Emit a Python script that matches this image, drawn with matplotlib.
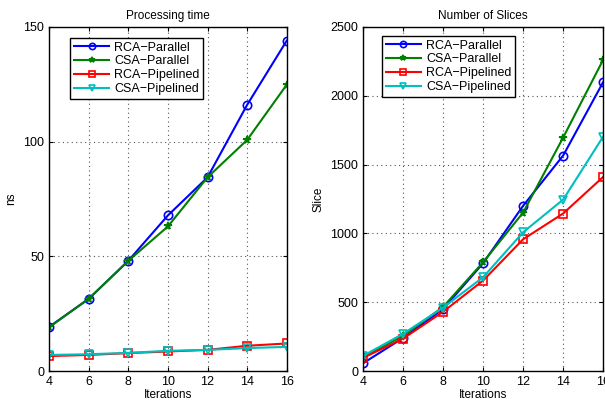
import numpy as np
import matplotlib
matplotlib.use("Agg")
import matplotlib.pyplot as plt

plt.rcParams['font.family'] = ['Liberation Sans', 'DejaVu Sans']

iterations = [4, 6, 8, 10, 12, 14, 16]

# processing time (ns)
time_rca_par = [19.2, 31.4, 48.0, 67.8, 84.4, 116.0, 144.0]
time_csa_par = [19.0, 31.5, 48.0, 63.0, 84.4, 100.7, 124.8]
time_rca_pipe = [6.5, 7.0, 7.8, 8.5, 9.2, 11.0, 12.0]
time_csa_pipe = [7.0, 7.3, 7.9, 8.8, 9.2, 10.0, 10.5]

# number of slices
slice_rca_par = [56, 240, 450, 783, 1200, 1565, 2099]
slice_csa_par = [100, 255, 465, 790, 1151, 1696, 2261]
slice_rca_pipe = [95, 235, 430, 657, 957, 1144, 1410]
slice_csa_pipe = [110, 270, 460, 681, 1008, 1245, 1703]

labels = ["RCA\u2212Parallel", "CSA\u2212Parallel", "RCA\u2212Pipelined", "CSA\u2212Pipelined"]
colors = ["#0000ff", "#008000", "#ff0000", "#00bfbf"]
markers = ["o", "*", "s", "v"]

fig = plt.figure(figsize=(6.05, 4.03), dpi=100)
ax1 = fig.add_axes([0.081, 0.0794, 0.393, 0.854])
ax2 = fig.add_axes([0.600, 0.0794, 0.397, 0.854])


def draw(ax, series, title, ylabel, ylim, yticks, legend_anchor):
    for s, lab, c, m in zip(series, labels, colors, markers):
        filled = m == "*"
        ax.plot(iterations, s, color=c, marker=m, markersize=6 if m != "*" else 5.5,
                markerfacecolor=c if filled else "none", markeredgewidth=1.2,
                linewidth=1.5, label=lab)
    ax.set_xlim(4, 16)
    ax.set_ylim(*ylim)
    ax.set_xticks(iterations)
    ax.set_yticks(yticks)
    ax.grid(True, linestyle=(0, (1, 3)), color="#555555", linewidth=0.8)
    ax.tick_params(direction="in", top=True, right=True, labelsize=9, length=3)
    for sp in ax.spines.values():
        sp.set_linewidth(1.0)
    ax.set_title(title, fontsize=8.5)
    ax.set_xlabel("Iterations", fontsize=8.5, labelpad=1)
    ax.set_ylabel(ylabel, fontsize=8.5)
    leg = ax.legend(loc="upper left", bbox_to_anchor=legend_anchor, fontsize=9,
                    fancybox=False, framealpha=1, edgecolor="black",
                    handlelength=2.8, borderpad=0.3, labelspacing=0.15,
                    handletextpad=0.4, borderaxespad=0, markerscale=0.75)
    leg.get_frame().set_linewidth(1.0)


draw(ax1, [time_rca_par, time_csa_par, time_rca_pipe, time_csa_pipe],
     "Processing time", "ns", (0, 150), [0, 50, 100, 150], (0.09, 0.968))
draw(ax2, [slice_rca_par, slice_csa_par, slice_rca_pipe, slice_csa_pipe],
     "Number of Slices", "Slice", (0, 2500), [0, 500, 1000, 1500, 2000, 2500], (0.08, 0.974))

fig.savefig("out.png", dpi=100)
